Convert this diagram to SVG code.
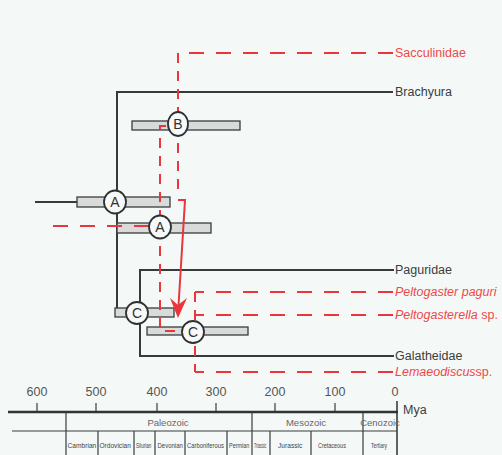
<svg xmlns="http://www.w3.org/2000/svg" width="502" height="455" viewBox="0 0 502 455">
<defs>
<style>
.bk{stroke:#363a3a;stroke-width:2;fill:none}
.rd{stroke:#e8363c;stroke-width:2;fill:none;stroke-dasharray:15 12}
.rv{stroke:#e8363c;stroke-width:2;fill:none;stroke-dasharray:10 8}
.bar{fill:#d9dbdb;stroke:#3a3d3d;stroke-width:1.3}
.nd{fill:#f7f9f9;stroke:#2e3131;stroke-width:1.8}
.nt{font-family:"Liberation Sans",Arial,sans-serif;font-size:14px;fill:#2e3131;text-anchor:middle}
.lb{font-family:"Liberation Sans",Arial,sans-serif;font-size:12.5px;fill:#3a3d3d}
.lr{font-family:"Liberation Sans",Arial,sans-serif;font-size:12.5px;fill:#ec4a4a}
.ax{font-family:"Liberation Sans",Arial,sans-serif;font-size:12.5px;fill:#555;text-anchor:middle}
.era{font-family:"Liberation Sans",Arial,sans-serif;font-size:9.5px;fill:#666;text-anchor:middle}
.per{font-family:"Liberation Sans",Arial,sans-serif;font-size:7px;fill:#444}
.tl{stroke:#3a3d3d;stroke-width:1.2}
</style>
</defs>
<rect width="502" height="455" fill="#f4f8f7"/>

<g id="connectors">
<path class="bk" d="M35,202 H117"/>
<path class="bk" d="M393,92 H117 V313 H140"/>
<path class="bk" d="M394,270 H140 V356 H394"/>
</g>

<g id="bars">
<rect class="bar" x="77" y="197" width="93" height="10"/>
<rect class="bar" x="132" y="121" width="108" height="9"/>
<rect class="bar" x="117" y="223" width="94" height="10"/>
<rect class="bar" x="115" y="308" width="59" height="9"/>
<rect class="bar" x="147" y="327" width="101" height="8"/>
</g>

<g id="red-connectors">
<path class="rd" d="M393,53 H178"/>
<path class="rv" d="M178,53 V197"/>
<path class="rd" d="M53,226 H150"/>
<path class="rv" d="M166,126 H160 V331 H182"/>
<path class="rd" d="M393,292 H195"/>
<path class="rd" d="M393,315 H195"/>
<path class="rv" d="M195,292 V372"/>
<path class="rd" d="M393,372 H195"/>
<path d="M178,200 H185 L178.5,306" stroke="#e8363c" stroke-width="2" fill="none"/>
<polygon points="178,318 170,298 178,305 187,298" fill="#e8363c"/>
</g>

<g id="node-A1"><ellipse class="nd" cx="115" cy="202" rx="11" ry="11.5"/><text class="nt" x="115" y="207">A</text></g>
<g id="node-A2"><ellipse class="nd" cx="160" cy="227" rx="11" ry="11.5"/><text class="nt" x="160" y="232">A</text></g>
<g id="node-B"><ellipse class="nd" cx="178" cy="124" rx="10" ry="12"/><text class="nt" x="178" y="129">B</text></g>
<g id="node-C1"><ellipse class="nd" cx="137" cy="313" rx="11" ry="11"/><text class="nt" x="137" y="318">C</text></g>
<g id="node-C2"><ellipse class="nd" cx="193" cy="332" rx="11" ry="11"/><text class="nt" x="193" y="337">C</text></g>

<g id="leaf-Sacculinidae"><text class="lr" x="395" y="57">Sacculinidae</text></g>
<g id="leaf-Brachyura"><text class="lb" x="395" y="96">Brachyura</text></g>
<g id="leaf-Paguridae"><text class="lb" x="395" y="274">Paguridae</text></g>
<g id="leaf-Peltogaster"><text class="lr" x="395" y="296" font-style="italic">Peltogaster paguri</text></g>
<g id="leaf-Peltogasterella"><text class="lr" x="395" y="319"><tspan font-style="italic">Peltogasterella</tspan> sp.</text></g>
<g id="leaf-Galatheidae"><text class="lb" x="395" y="360">Galatheidae</text></g>
<g id="leaf-Lemaeodiscus"><text class="lr" x="395" y="376"><tspan font-style="italic">Lemaeodiscus</tspan>sp.</text></g>

<g id="axis">
<text class="ax" x="37" y="396">600</text>
<text class="ax" x="96" y="396">500</text>
<text class="ax" x="157" y="396">400</text>
<text class="ax" x="216" y="396">300</text>
<text class="ax" x="275" y="396">200</text>
<text class="ax" x="335" y="396">100</text>
<text class="ax" x="395" y="396">0</text>
<text class="lb" x="403" y="414" font-size="11" fill="#666">Mya</text>
<g class="tl">
<line x1="37" y1="403" x2="37" y2="412"/>
<line x1="96" y1="403" x2="96" y2="412"/>
<line x1="157" y1="403" x2="157" y2="412"/>
<line x1="216" y1="403" x2="216" y2="412"/>
<line x1="275" y1="403" x2="275" y2="412"/>
<line x1="335" y1="403" x2="335" y2="412"/>
<line x1="397" y1="401" x2="397" y2="455" stroke-width="1.6"/>
<line x1="66" y1="412" x2="66" y2="455"/>
<line x1="252" y1="412" x2="252" y2="455"/>
<line x1="363" y1="412" x2="363" y2="455"/>
<line x1="12" y1="431" x2="397" y2="431"/>
<line x1="98" y1="431" x2="98" y2="455"/>
<line x1="134" y1="431" x2="134" y2="455"/>
<line x1="155" y1="431" x2="155" y2="455"/>
<line x1="185" y1="431" x2="185" y2="455"/>
<line x1="227" y1="431" x2="227" y2="455"/>
<line x1="270" y1="431" x2="270" y2="455"/>
<line x1="311" y1="431" x2="311" y2="455"/>
</g>
<line x1="8" y1="412" x2="398" y2="412" stroke="#333" stroke-width="2.5"/>
<text class="era" x="168" y="426">Paleozoic</text>
<text class="era" x="306" y="426">Mesozoic</text>
<text class="era" x="380" y="426" font-size="7">Cenozoic</text>
<text class="per" transform="translate(67.5,448) scale(0.95,1)">Cambrian</text>
<text class="per" transform="translate(99.5,448) scale(0.94,1)">Ordovician</text>
<text class="per" transform="translate(136,448) scale(0.66,1)">Silurian</text>
<text class="per" transform="translate(157.5,448) scale(0.86,1)">Devonian</text>
<text class="per" transform="translate(187,448) scale(0.84,1)">Carboniferous</text>
<text class="per" transform="translate(229,448) scale(0.78,1)">Permian</text>
<text class="per" transform="translate(254,448) scale(0.52,1)">Triassic</text>
<text class="per" transform="translate(278,448) scale(0.95,1)">Jurassic</text>
<text class="per" transform="translate(318,448) scale(0.78,1)">Cretaceous</text>
<text class="per" transform="translate(371,448) scale(0.7,1)">Tertiary</text>
</g>
</svg>
